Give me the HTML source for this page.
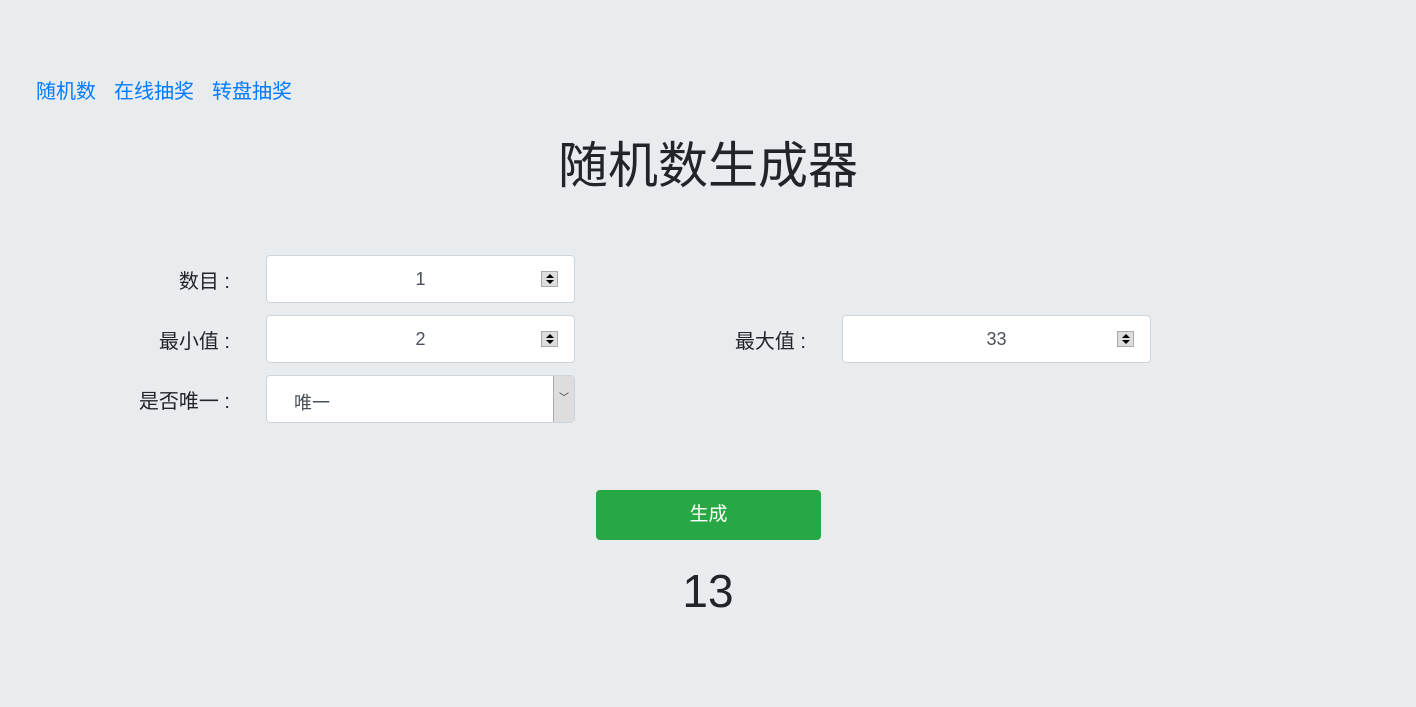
<!DOCTYPE html>
<html><head><meta charset="utf-8"><style>
body{margin:0;width:1416px;height:707px;background:#e9ecef;font-family:"Liberation Sans","Noto Sans CJK SC",sans-serif;color:#212529;position:relative;overflow:hidden}
.a{position:absolute;white-space:nowrap}
.nav{top:75px;font-size:20px;color:#007bff}
.lbl{font-size:20px;text-align:right;width:120px}
.inp{position:absolute;background:#fff;border:1px solid #ced4da;border-radius:4px;width:309px;height:48px;box-sizing:border-box}
.inp .v{position:absolute;left:0;right:0;top:13px;text-align:center;font-size:18px;color:#495057}
.sp{position:absolute;right:16px;top:15px;width:17px;height:16px;background:#ddd;border:1px solid #aaa;box-sizing:border-box}
.sp:before{content:"";position:absolute;left:4px;top:2px;border:4px solid transparent;border-top:0;border-bottom:4px solid #000}
.sp:after{content:"";position:absolute;left:4px;top:8px;border:4px solid transparent;border-bottom:0;border-top:4px solid #000}
</style></head><body>
<div class="a nav" style="left:36px">随机数</div>
<div class="a nav" style="left:114px">在线抽奖</div>
<div class="a nav" style="left:212px">转盘抽奖</div>
<div class="a" style="left:0;width:1416px;text-align:center;top:126px;font-size:50px">随机数生成器</div>
<div class="a lbl" style="left:110px;top:265px">数目 :</div>
<div class="inp" style="left:266px;top:255px"><div class="v">1</div><div class="sp"></div></div>
<div class="a lbl" style="left:110px;top:325px">最小值 :</div>
<div class="inp" style="left:266px;top:315px"><div class="v">2</div><div class="sp"></div></div>
<div class="a lbl" style="left:686px;top:325px">最大值 :</div>
<div class="inp" style="left:842px;top:315px"><div class="v">33</div><div class="sp"></div></div>
<div class="a lbl" style="left:110px;top:385px">是否唯一 :</div>
<div class="inp" style="left:266px;top:375px"><div class="a" style="left:27px;top:13px;font-size:18px;color:#495057">唯一</div>
<div style="position:absolute;right:0;top:0;width:20px;height:46px;background:#ddd;border-left:1px solid #aaa;font-size:10px;text-align:center;line-height:46px;color:#333">﹀</div></div>
<div class="a" style="left:596px;top:490px;width:225px;height:50px;background:#28a745;border-radius:4px;color:#fff;font-size:19px;text-align:center;line-height:50px">生成</div>
<div class="a" style="left:0;width:1416px;text-align:center;top:564px;font-size:46px">13</div>
</body></html>
